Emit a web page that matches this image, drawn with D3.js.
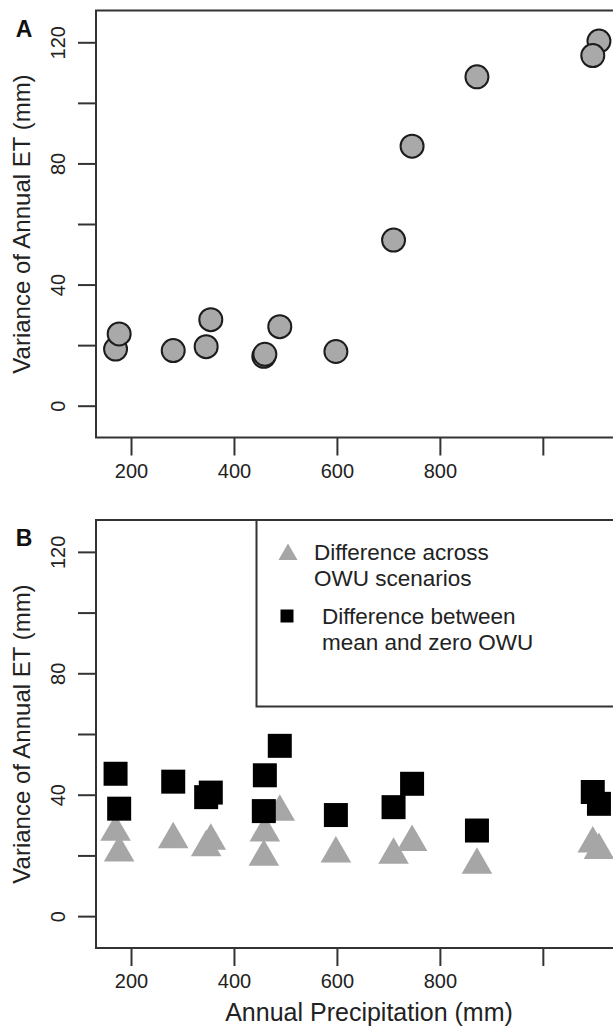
<!DOCTYPE html>
<html>
<head>
<meta charset="utf-8">
<script src="https://cdn.jsdelivr.net/npm/d3@7"></script>
<style>
  body { margin: 0; background: #fff; overflow: hidden; }
  svg { display: block; font-family: "Liberation Sans", Arial, Helvetica, sans-serif; }
</style>
</head>
<body>
<div id="canvas"></div>
<script>
// annual precipitation (mm) of each site, shared by both panels
const precip = [170, 177, 282, 346, 355, 458, 460, 489, 598, 710, 746, 872, 1109, 1097];
// panel A: variance of annual ET (mm)
const varianceET = [18.7, 23.7, 18.2, 19.5, 28.4, 16.3, 17.0, 26.1, 17.9, 54.7, 85.7, 108.6, 120.4, 115.6];
// panel B: difference across OWU scenarios
const diffAcross = [27.7, 20.9, 25.3, 22.6, 24.8, 19.5, 27.5, 34.3, 20.6, 20.2, 24.4, 16.9, 21.7, 23.9];
// panel B: difference between mean and zero OWU
const diffMeanZero = [46.9, 35.4, 44.3, 39.2, 40.7, 34.6, 46.4, 56.1, 33.3, 35.9, 43.6, 28.2, 37.0, 40.9];

const xTicks = [200, 400, 600, 800, 1000];
const xTickLabels = ["200", "400", "600", "800", ""];
const yTicks = [0, 20, 40, 60, 80, 100, 120];
const yTickLabels = ["0", "", "40", "", "80", "", "120"];
const legendLabels = [["Difference across", "OWU scenarios"], ["Difference between", "mean and zero OWU"]];

const width = 613;
const height = 1031;
const left = 96, right = 618;
const panels = [{top: 10.5, bottom: 437.5, tag: "A"}, {top: 520, bottom: 948, tag: "B"}];

const svg = d3.select("#canvas").append("svg")
    .attr("width", width)
    .attr("height", height);

const x = d3.scaleLinear().domain([132, 1146]).range([left, right]);

const triSize = 405, sqSize = 576;

panels.forEach((p, i) => {
    const y = d3.scaleLinear().domain([-10.5, 130.5]).range([p.bottom, p.top]);
    p.y = y;
    const g = svg.append("g");

    // x axis
    const xa = g.append("g")
        .attr("transform", `translate(0,${p.bottom})`)
        .call(d3.axisBottom(x).tickValues(xTicks).tickFormat((d, k) => xTickLabels[k]).tickSize(18).tickSizeOuter(0).tickPadding(8));
    xa.select(".domain").remove();
    xa.selectAll("line").attr("stroke", "#333").attr("stroke-width", 2);
    xa.selectAll("text").attr("font-size", 20).attr("fill", "#222").attr("font-family", null);

    // y axis
    const ya = g.append("g")
        .attr("transform", `translate(${left},0)`)
        .call(d3.axisLeft(y).tickValues(yTicks).tickFormat((d, k) => yTickLabels[k]).tickSize(18).tickSizeOuter(0));
    ya.select(".domain").remove();
    ya.selectAll("line").attr("stroke", "#333").attr("stroke-width", 2);
    ya.selectAll("text")
        .attr("font-size", 20).attr("fill", "#222").attr("font-family", null)
        .attr("x", null).attr("dy", null)
        .attr("text-anchor", "middle")
        .attr("transform", "translate(-38,0) rotate(-90)")
        .attr("dy", "0.35em");

    // box
    g.append("rect")
        .attr("x", left).attr("y", p.top)
        .attr("width", right - left + 20).attr("height", p.bottom - p.top)
        .attr("fill", "none").attr("stroke", "#333").attr("stroke-width", 2);

    // y title
    g.append("text")
        .attr("transform", `translate(22,${(p.top + p.bottom) / 2}) rotate(-90)`)
        .attr("text-anchor", "middle")
        .attr("dy", "0.35em")
        .attr("font-size", 24)
        .attr("fill", "#222")
        .text("Variance of Annual ET (mm)");

    // panel tag
    g.append("text")
        .attr("x", 24).attr("y", p.top + 18)
        .attr("dy", "0.35em")
        .attr("text-anchor", "middle")
        .attr("font-size", 23)
        .attr("font-weight", "bold")
        .attr("fill", "#111")
        .text(p.tag);
});

// panel A circles
const yA = panels[0].y;
svg.append("g")
    .selectAll("circle")
    .data(precip)
    .enter()
    .append("circle")
    .attr("cx", d => x(d))
    .attr("cy", (d, i) => yA(varianceET[i]))
    .attr("r", 11.5)
    .attr("fill", "#a9a9a9")
    .attr("stroke", "#1c1c1c")
    .attr("stroke-width", 2);

// panel B
const yB = panels[1].y;
const gB = svg.append("g");

// legend
const lg = gB.append("g");
lg.append("rect")
    .attr("x", 256.5).attr("y", panels[1].top)
    .attr("width", 400).attr("height", 706.5 - panels[1].top)
    .attr("fill", "#fff").attr("stroke", "#333").attr("stroke-width", 2);
lg.append("path")
    .attr("d", d3.symbol(d3.symbolTriangle, 157))
    .attr("transform", "translate(288,554.5)")
    .attr("fill", "#a6a6a6");
lg.append("path")
    .attr("d", d3.symbol(d3.symbolSquare, 169))
    .attr("transform", "translate(287,616)")
    .attr("fill", "#000");
const legendPos = [{x: 314, y: 552}, {x: 322, y: 616}];
legendLabels.forEach((lines, i) => {
    lines.forEach((t, j) => {
        lg.append("text")
            .attr("x", legendPos[i].x)
            .attr("y", legendPos[i].y + j * 26)
            .attr("dy", "0.35em")
            .attr("font-size", 22.5)
            .attr("fill", "#222")
            .text(t);
    });
});

gB.append("g")
    .selectAll("path")
    .data(precip)
    .enter()
    .append("path")
    .attr("d", d3.symbol(d3.symbolTriangle, triSize))
    .attr("transform", (d, i) => `translate(${x(d)},${yB(diffAcross[i])})`)
    .attr("fill", "#a6a6a6");

gB.append("g")
    .selectAll("path")
    .data(precip)
    .enter()
    .append("path")
    .attr("d", d3.symbol(d3.symbolSquare, sqSize))
    .attr("transform", (d, i) => `translate(${x(d)},${yB(diffMeanZero[i])})`)
    .attr("fill", "#000");

// x title
svg.append("text")
    .attr("x", 369).attr("y", 1012)
    .attr("dy", "0.35em")
    .attr("text-anchor", "middle")
    .attr("font-size", 25)
    .attr("fill", "#222")
    .text("Annual Precipitation (mm)");
</script>
</body>
</html>
